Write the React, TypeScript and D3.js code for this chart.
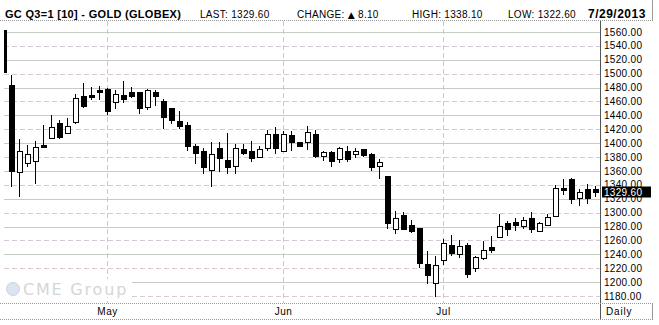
import React from "react";
import * as d3 from "d3";

// Daily OHLC values (index 0 = leftmost, partially clipped bar)
const opens = [
  1563, 1484, 1358, 1372, 1374, 1397, 1407, 1429, 1414, 1431, 1468, 1469, 1477, 1478, 1459,
  1469, 1473, 1473, 1452, 1474, 1460, 1450, 1432, 1426, 1396, 1389, 1361, 1393, 1376, 1367,
  1391, 1389, 1380, 1393, 1413, 1389, 1412, 1401, 1401, 1413, 1382, 1387, 1377, 1389, 1384,
  1391, 1385, 1367, 1353, 1276, 1297, 1282, 1278, 1226, 1198, 1232, 1253, 1240, 1253, 1220,
  1234, 1250, 1265, 1285, 1286, 1281, 1292, 1273, 1282, 1295, 1335, 1348, 1321, 1334, 1334,
];
const highs = [
  1563, 1498, 1406, 1397, 1403, 1426, 1440, 1433, 1436, 1471, 1487, 1481, 1482, 1479, 1476,
  1490, 1481, 1474, 1478, 1477, 1464, 1451, 1446, 1431, 1399, 1393, 1401, 1401, 1415, 1399,
  1399, 1403, 1396, 1419, 1423, 1418, 1418, 1402, 1425, 1419, 1389, 1389, 1394, 1396, 1393,
  1391, 1386, 1377, 1353, 1302, 1301, 1289, 1278, 1245, 1237, 1262, 1268, 1261, 1257, 1238,
  1259, 1266, 1298, 1288, 1292, 1294, 1301, 1287, 1298, 1340, 1349, 1350, 1334, 1341, 1338.1,
];
const lows = [
  1502, 1337, 1323, 1366, 1341, 1393, 1406, 1406, 1413, 1428, 1450, 1462, 1462, 1440, 1449,
  1458, 1465, 1442, 1448, 1453, 1420, 1427, 1421, 1388, 1370, 1355, 1337, 1359, 1355, 1356,
  1383, 1373, 1379, 1388, 1384, 1388, 1388, 1396, 1390, 1378, 1375, 1365, 1372, 1373, 1378,
  1380, 1360, 1349, 1276, 1269, 1276, 1271, 1221, 1197, 1179, 1224, 1238, 1235, 1206, 1214,
  1232, 1242, 1263, 1267, 1273, 1276, 1270, 1272, 1281, 1294, 1326, 1313, 1309, 1312, 1322.6,
];
const closes = [
  1502, 1360, 1388, 1384, 1394, 1395, 1423, 1409, 1425, 1465, 1454, 1466, 1473, 1447, 1471,
  1464, 1468, 1450, 1477, 1468, 1437, 1434, 1424, 1396, 1386, 1365, 1385, 1378, 1366, 1393,
  1386, 1378, 1392, 1413, 1393, 1413, 1402, 1396, 1416, 1382, 1387, 1375, 1393, 1377, 1389,
  1383, 1365, 1373, 1285, 1292, 1276, 1274, 1227, 1210, 1225, 1256, 1242, 1252, 1211, 1236,
  1246, 1246, 1281, 1276, 1282, 1290, 1276, 1285, 1293, 1336, 1333, 1319, 1329, 1321.5, 1329.6,
];

const yTicks = [1180, 1200, 1220, 1240, 1260, 1280, 1300, 1320, 1340, 1360, 1380, 1400, 1420, 1440, 1460, 1480, 1500, 1520, 1540, 1560];
const monthLabels = ["May", "Jun", "Jul"];
const monthStartIndex = [13, 35, 55];

const headerTitle = "GC Q3=1 [10] - GOLD (GLOBEX)";
const headerLast = "LAST: 1329.60";
const headerChangeLabel = "CHANGE: ";
const headerChangeValue = " 8.10";
const headerHigh = "HIGH: 1338.10";
const headerLow = "LOW: 1322.60";
const headerDate = "7/29/2013";
const lastPrice = 1329.6;

const W = 659;
const H = 325;
const plotLeft = 4;
const plotRight = 600;
const plotTop = 21;
const plotBottom = 303;

export default function App() {
  const x = d3.scaleLinear().domain([0, opens.length - 1]).range([3, 595]);
  const y = d3.scaleLinear().domain([1180, 1560]).range([296, 32]);
  const font = "'Liberation Sans', Arial, sans-serif";
  const candles = d3.range(opens.length);

  return (
    <svg
      width={W}
      height={H}
      style={{ position: "absolute", left: 0, top: 0, background: "#fff" }}
      fontFamily={font}
    >
      <defs>
        <clipPath id="plotClip">
          <rect x={plotLeft} y={plotTop} width={plotRight - plotLeft} height={plotBottom - plotTop} />
        </clipPath>
      </defs>
      <rect x={0} y={0} width={W} height={H} fill="#fff" />

      {/* header */}
      <text x={5} y={18} fontSize={11} fontWeight="bold" letterSpacing={0.3} fill="#000">
        {headerTitle}
      </text>
      <text x={200} y={18} fontSize={10} letterSpacing={0.3} fill="#000">{headerLast}</text>
      <text x={297} y={18} fontSize={10} letterSpacing={0.3} fill="#000">
        {headerChangeLabel}
        <tspan fontFamily="'DejaVu Sans', sans-serif" fontSize={9}>{"\u25B2"}</tspan>
        {headerChangeValue}
      </text>
      <text x={412} y={18} fontSize={10} letterSpacing={0.3} fill="#000">{headerHigh}</text>
      <text x={508} y={18} fontSize={10} letterSpacing={0.3} fill="#000">{headerLow}</text>
      <text x={588} y={18} fontSize={12} fontWeight="bold" letterSpacing={0.5} fill="#000">
        {headerDate}
      </text>
      <line x1={0} x2={653} y1={20.5} y2={20.5} stroke="#999" strokeDasharray="1,1" />
      <line x1={652.5} x2={652.5} y1={0} y2={20} stroke="#999" />

      {/* gridlines */}
      <g shapeRendering="crispEdges">
        {yTicks.map((t, k) => (
          <line
            key={t}
            x1={plotLeft}
            x2={plotRight}
            y1={Math.round(y(t)) + 0.5}
            y2={Math.round(y(t)) + 0.5}
            stroke={k % 2 === 0 ? "#d8c8d4" : "#c4ccc4"}
            strokeDasharray={k % 2 === 0 ? "5,3" : undefined}
          />
        ))}
        {monthStartIndex.map((i) => (
          <line
            key={i}
            x1={Math.round(x(i)) + 0.5}
            x2={Math.round(x(i)) + 0.5}
            y1={plotTop}
            y2={plotBottom}
            stroke="#d4c4d0"
            strokeDasharray="5,3"
          />
        ))}
      </g>

      {/* watermark */}
      <rect x={4} y={279} width={128} height={18} fill="#fff" />
      <circle cx={13} cy={289} r={6.5} fill="#dde4f0" stroke="#c8d2e6" />
      <text x={23} y={295} fontSize={16} letterSpacing={1.8} fill="#d6d6d6" fontFamily="'DejaVu Sans', sans-serif">
        CME Group
      </text>

      {/* candles */}
      <g clipPath="url(#plotClip)" shapeRendering="crispEdges">
        {candles.map((i) => {
          const cx = Math.round(x(i));
          const o = opens[i];
          const c = closes[i];
          const up = c >= o;
          const top = Math.round(y(Math.max(o, c)));
          const bot = Math.round(y(Math.min(o, c)));
          const bh = Math.max(bot - top, 1);
          return (
            <g key={i}>
              <line
                x1={cx + 0.5}
                x2={cx + 0.5}
                y1={Math.round(y(highs[i]))}
                y2={Math.round(y(lows[i]))}
                stroke="#000"
                strokeWidth={1}
              />
              <rect
                x={cx - 2 + 0.5}
                y={top + 0.5}
                width={5}
                height={bh}
                fill={up ? "#fff" : "#000"}
                stroke="#000"
                strokeWidth={1}
              />
            </g>
          );
        })}
      </g>

      {/* plot frame */}
      <g shapeRendering="crispEdges">
        <line x1={plotRight + 0.5} x2={plotRight + 0.5} y1={plotTop} y2={319} stroke="#555" />
        <line x1={0} x2={653} y1={plotBottom + 0.5} y2={plotBottom + 0.5} stroke="#999" strokeDasharray="1,1" />
        <line x1={0} x2={653} y1={319.5} y2={319.5} stroke="#999" strokeDasharray="1,1" />
        <line x1={652.5} x2={652.5} y1={plotBottom} y2={320} stroke="#999" />
      </g>

      {/* y-axis labels */}
      {yTicks.map((t) => (
        <text key={t} x={604} y={y(t) + 3.6} fontSize={10} letterSpacing={0.3} fill="#000">
          {d3.format(".2f")(t)}
        </text>
      ))}

      {/* last price marker */}
      <rect x={602} y={Math.round(y(lastPrice)) - 5.5} width={49} height={11} fill="#000" />
      <text x={604} y={y(lastPrice) + 3.6} fontSize={10} letterSpacing={0.3} fill="#fff">
        {d3.format(".2f")(lastPrice)}
      </text>

      {/* month labels */}
      {monthLabels.map((m, k) => (
        <text
          key={m}
          x={x(monthStartIndex[k]) + 0.5}
          y={315}
          fontSize={10}
          letterSpacing={0.5}
          textAnchor="middle"
          fill="#000"
        >
          {m}
        </text>
      ))}
      <text x={606} y={315} fontSize={10} letterSpacing={0.8} fill="#000">Daily</text>
    </svg>
  );
}
